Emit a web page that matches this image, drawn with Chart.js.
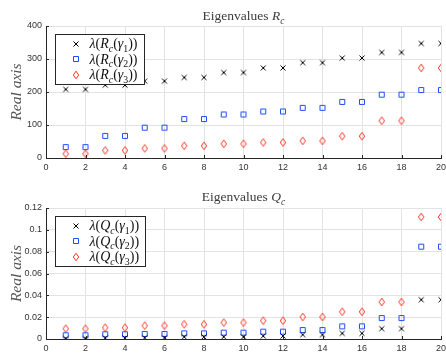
<!DOCTYPE html>
<html>
<head>
<meta charset="utf-8">
<script src="https://cdn.jsdelivr.net/npm/chart.js@4.4.0/dist/chart.umd.min.js"></script>
<style>
  html, body { margin: 0; padding: 0; background: #fff; }
  #boxR { position: absolute; left: 0; top: 0; width: 446px; height: 175px; }
  #boxQ { position: absolute; left: 0; top: 175px; width: 446px; height: 180px; }
</style>
</head>
<body>
<div id="boxR"><canvas id="chartR"></canvas></div>
<div id="boxQ"><canvas id="chartQ"></canvas></div>
<script>
// data
const steps = [1, 2, 3, 4, 5, 6, 7, 8, 9, 10, 11, 12, 13, 14, 15, 16, 17, 18, 19, 20];

const rGamma1 = [208, 208, 221, 221, 233, 233, 244, 244, 259, 259, 273, 273, 289, 289, 303, 303, 320, 320, 347, 347];
const rGamma2 = [33, 33, 67, 67, 92, 92, 118, 118, 132, 132, 141, 141, 152, 152, 170, 170, 192, 192, 206, 206];
const rGamma3 = [13, 13, 23, 23, 29, 29, 37, 37, 43, 43, 47, 47, 52, 52, 66, 66, 113, 113, 273, 273];

const qGamma1 = [0.0004, 0.0004, 0.001, 0.001, 0.0012, 0.0012, 0.002, 0.002, 0.002, 0.002, 0.0027, 0.0027, 0.004, 0.004, 0.0052, 0.0052, 0.0095, 0.0095, 0.036, 0.036];
const qGamma2 = [0.0034, 0.0034, 0.0043, 0.0043, 0.0046, 0.0046, 0.0052, 0.0052, 0.0058, 0.0058, 0.0067, 0.0067, 0.0082, 0.0082, 0.0116, 0.0116, 0.0192, 0.0192, 0.0846, 0.0846];
const qGamma3 = [0.0095, 0.0095, 0.0104, 0.0104, 0.0122, 0.0122, 0.0134, 0.0134, 0.015, 0.015, 0.0168, 0.0168, 0.0202, 0.0202, 0.025, 0.025, 0.0339, 0.0339, 0.1118, 0.1118];

const xTicks = [0, 2, 4, 6, 8, 10, 12, 14, 16, 18, 20];
const rTicks = [0, 100, 200, 300, 400];
const qTicks = [0, 0.02, 0.04, 0.06, 0.08, 0.1, 0.12];

const BLACK = '#000000';
const BLUE = '#1d4bff';
const RED = '#ff3322';
const AXIS = '#262626';
const SERIF = '"Liberation Serif", "DejaVu Serif", serif';
const SANS = 'Helvetica, Arial, "Liberation Sans", sans-serif';

// small canvases used as point styles (matlab x / square / diamond)
function makeMarker(kind, color) {
  const c = document.createElement('canvas');
  c.width = 12; c.height = 12;
  const g = c.getContext('2d');
  g.strokeStyle = color;
  g.lineWidth = 1;
  g.beginPath();
  if (kind === 'x') {
    g.moveTo(3.5, 3.5); g.lineTo(8.5, 8.5);
    g.moveTo(8.5, 3.5); g.lineTo(3.5, 8.5);
  } else if (kind === 'square') {
    g.rect(3.5, 3.5, 5, 5);
  } else {
    g.moveTo(6, 2.2); g.lineTo(8.7, 6); g.lineTo(6, 9.8); g.lineTo(3.3, 6); g.closePath();
  }
  g.stroke();
  return c;
}
const markX = makeMarker('x', BLACK);
const markSq = makeMarker('square', BLUE);
const markDia = makeMarker('diamond', RED);

// text with italic letters and subscripts, drawn on the canvas
function richWidth(ctx, parts, size) {
  let w = 0;
  parts.forEach(p => {
    const s = p[1].indexOf('s') >= 0 ? size * 0.7 : size;
    ctx.font = (p[1].indexOf('i') >= 0 ? 'italic ' : '') + s + 'px ' + SERIF;
    w += ctx.measureText(p[0]).width;
  });
  return w;
}
function drawRich(ctx, parts, x, y, size, color) {
  ctx.save();
  ctx.fillStyle = color;
  ctx.textBaseline = 'alphabetic';
  ctx.textAlign = 'left';
  parts.forEach(p => {
    const sub = p[1].indexOf('s') >= 0;
    const s = sub ? size * 0.7 : size;
    ctx.font = (p[1].indexOf('i') >= 0 ? 'italic ' : '') + s + 'px ' + SERIF;
    ctx.fillText(p[0], x, sub ? y + size * 0.28 : y);
    x += ctx.measureText(p[0]).width;
  });
  ctx.restore();
}
function lambdaLabel(letter, k) {
  return [['λ', 'i'], ['(', 'n'], [letter, 'i'], ['c', 'is'], ['(', 'n'], ['γ', 'i'], [String(k), 's'], ['))', 'n']];
}

const matlabLook = {
  id: 'matlabLook',
  afterDatasetsDraw(chart, args, opts) {
    const ctx = chart.ctx;
    const area = chart.chartArea;
    const xs = chart.scales.x, ys = chart.scales.y;

    // inward tick marks
    ctx.save();
    ctx.strokeStyle = AXIS;
    ctx.lineWidth = 1;
    ctx.beginPath();
    xTicks.forEach(v => {
      const px = Math.round(xs.getPixelForValue(v)) + 0.5;
      ctx.moveTo(px, area.bottom); ctx.lineTo(px, area.bottom - 3);
    });
    ys.ticks.forEach(t => {
      const py = Math.round(ys.getPixelForValue(t.value)) + 0.5;
      ctx.moveTo(area.left, py); ctx.lineTo(area.left + 3, py);
    });
    ctx.stroke();
    ctx.restore();

    // title
    const tw = richWidth(ctx, opts.title, 13.5);
    drawRich(ctx, opts.title, (area.left + area.right) / 2 - tw / 2, area.top - opts.titleGap, 13.5, '#3a3a3a');

    // legend box
    const bx = area.left + 9.5, by = area.top + opts.legendTop + 0.5;
    const bw = opts.legendW, bh = opts.legendH;
    ctx.save();
    ctx.fillStyle = '#ffffff';
    ctx.fillRect(bx, by, bw, bh);
    ctx.strokeStyle = AXIS;
    ctx.lineWidth = 1;
    ctx.strokeRect(bx, by, bw, bh);
    ctx.restore();
    opts.items.forEach((it, i) => {
      const cy = by + opts.rowStart + i * opts.rowGap;
      ctx.drawImage(it.marker, Math.round(bx + 20) - 6, Math.round(cy) - 6);
      drawRich(ctx, it.label, bx + 34, cy + 4.5, 14, '#111111');
    });
  }
};

function makeChart(id, series, yTicks, opts) {
  const markers = [markX, markSq, markDia];
  const colors = [BLACK, BLUE, RED];
  return new Chart(document.getElementById(id), {
    type: 'scatter',
    data: {
      datasets: series.map((vals, i) => ({
        data: steps.map((s, j) => ({ x: s, y: vals[j] })),
        pointStyle: markers[i],
        pointRadius: 4,
        borderColor: colors[i],
        backgroundColor: colors[i],
        showLine: false
      }))
    },
    options: {
      responsive: true,
      maintainAspectRatio: false,
      animation: false,
      events: [],
      layout: { padding: { top: opts.padTop, right: 3, left: 0, bottom: 0 } },
      scales: {
        x: {
          type: 'linear',
          min: 0, max: 20,
          afterBuildTicks: s => { s.ticks = xTicks.map(v => ({ value: v })); },
          afterFit: s => { s.height = opts.xHeight; s.paddingLeft = 0; s.paddingRight = 0; },
          grid: { color: '#e3e3e3', drawTicks: false },
          border: { color: AXIS },
          ticks: { padding: 4, color: '#333333', font: { family: SANS, size: 9 }, maxRotation: 0 }
        },
        y: {
          min: yTicks[0], max: yTicks[yTicks.length - 1],
          afterBuildTicks: s => { s.ticks = yTicks.map(v => ({ value: v })); },
          afterFit: s => { s.width = 46; s.paddingTop = 0; s.paddingBottom = 0; },
          grid: { color: '#e3e3e3', drawTicks: false },
          border: { color: AXIS },
          ticks: {
            padding: 4, color: '#333333', font: { family: SANS, size: 9 },
            callback: v => String(+v.toFixed(3))
          },
          title: {
            display: true, text: 'Real axis', color: '#555555',
            font: { family: SERIF, size: 15.5, style: 'italic' },
            padding: { top: 8, bottom: 0 }
          }
        }
      },
      plugins: {
        legend: { display: false },
        tooltip: { enabled: false },
        matlabLook: {
          title: opts.title,
          titleGap: opts.titleGap,
          legendTop: 8, legendW: opts.legendW, legendH: 50,
          rowStart: 9, rowGap: 15.5,
          items: opts.letters.map((lab, i) => ({ marker: markers[i], label: lab }))
        }
      }
    },
    plugins: [matlabLook]
  });
}

makeChart('chartR', [rGamma1, rGamma2, rGamma3], rTicks, {
  padTop: 26, xHeight: 17, titleGap: 6, legendW: 89,
  title: [['Eigenvalues ', 'n'], ['R', 'i'], ['c', 'is']],
  letters: [lambdaLabel('R', 1), lambdaLabel('R', 2), lambdaLabel('R', 3)]
});

makeChart('chartQ', [qGamma1, qGamma2, qGamma3], qTicks, {
  padTop: 33, xHeight: 16, titleGap: 7, legendW: 90,
  title: [['Eigenvalues ', 'n'], ['Q', 'i'], ['c', 'is']],
  letters: [lambdaLabel('Q', 1), lambdaLabel('Q', 2), lambdaLabel('Q', 3)]
});
</script>
</body>
</html>
